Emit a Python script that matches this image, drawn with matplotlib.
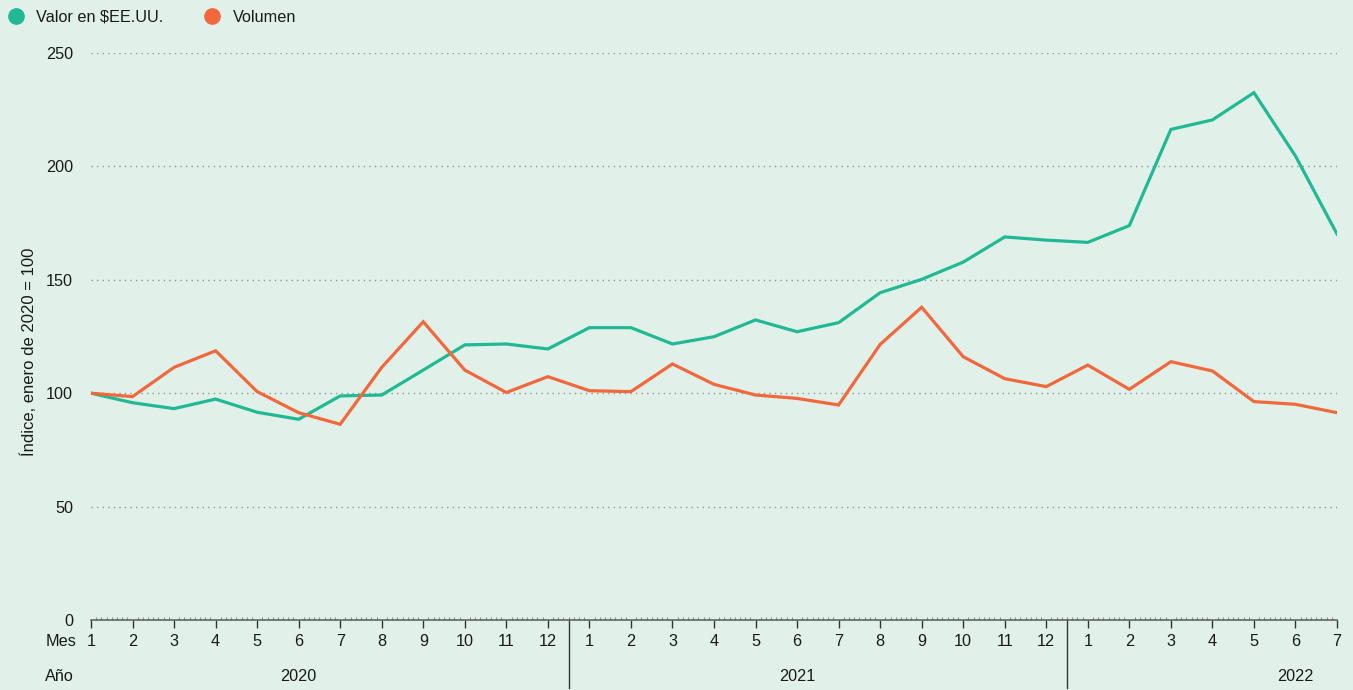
import matplotlib
matplotlib.use("Agg")
import matplotlib.pyplot as plt
from matplotlib.lines import Line2D
import numpy as np

# indice enero 2020 = 100, mensual ene-2020 .. jul-2022
months = [1, 2, 3, 4, 5, 6, 7, 8, 9, 10, 11, 12,
          1, 2, 3, 4, 5, 6, 7, 8, 9, 10, 11, 12,
          1, 2, 3, 4, 5, 6, 7]
years = ["2020", "2021", "2022"]

valor = [100.0, 95.8, 93.2, 97.4, 91.6, 88.5, 98.8, 99.2, 110.2, 121.3, 121.7, 119.5,
         128.9, 128.9, 121.7, 124.9, 132.3, 127.1, 131.1, 144.3, 150.2, 157.8, 168.9, 167.5,
         166.5, 173.9, 216.3, 220.5, 232.5, 204.6, 170.2]
volumen = [100.0, 98.5, 111.4, 118.7, 100.7, 91.4, 86.3, 111.4, 131.5, 110.2, 100.3, 107.3,
           101.1, 100.7, 112.9, 103.9, 99.2, 97.7, 94.8, 121.5, 137.9, 116.1, 106.4, 102.9,
           112.4, 101.7, 113.9, 109.8, 96.3, 95.1, 91.4]

bg = "#e1f1ea"
c_valor = "#20b993"
c_vol = "#f2683c"
txt = "#1a1a1a"

plt.rcParams["font.family"] = ["Liberation Sans", "DejaVu Sans"]
plt.rcParams["font.size"] = 11.7

fig = plt.figure(figsize=(13.53, 6.9), dpi=100, facecolor=bg)
ax = fig.add_axes([91 / 1353, 70 / 690, (1337 - 91) / 1353, (620 - 53) / 690])
ax.set_facecolor(bg)

x = np.arange(len(months))
ax.plot(x, valor, color=c_valor, lw=2.3, solid_joinstyle="miter", zorder=3)
ax.plot(x, volumen, color=c_vol, lw=2.3, solid_joinstyle="miter", zorder=3)

ax.set_xlim(0, len(months) - 1)
ax.set_ylim(0, 250)
yt = [0, 50, 100, 150, 200, 250]
ax.set_yticks(yt)
ax.set_yticklabels([str(v) for v in yt], color=txt)
for v in yt[1:]:
    ax.axhline(v, color="#8a9a93", lw=1.0, ls=(0, (1, 3)), zorder=1)

for s in ["top", "right", "left"]:
    ax.spines[s].set_visible(False)
ax.spines["bottom"].set_color("#666666")
ax.spines["bottom"].set_linewidth(1.2)
ax.tick_params(axis="y", length=0, pad=13)

ax.set_xticks(x)
ax.set_xticklabels([str(m) for m in months], color=txt)
ax.tick_params(axis="x", length=6, width=1.0, color="#333333", pad=4)
ax.set_xticks(np.arange(0, len(months) - 1 + 0.01, 0.125), minor=True)
ax.tick_params(axis="x", which="minor", length=2.5, width=0.8, color="#888888", direction="in")

ax.set_ylabel("Índice, enero de 2020 = 100", color=txt, fontsize=12)
ax.yaxis.set_label_coords(-0.0434, 0.473)

# etiquetas de filas
xt = ax.get_xaxis_transform()
ax.text(-0.36, -0.0245, "Mes", transform=xt, ha="right", va="top", color=txt)
ax.text(-0.42, -0.0865, "Año", transform=xt, ha="right", va="top", color=txt)

# etiquetas de año y separadores
for i, yr in enumerate(years):
    ax.text(5 + 12 * i, -0.0865, yr, transform=xt, ha="center", va="top", color=txt)
for b in [11.5, 23.5]:
    ax.plot([b, b], [0, -0.12], transform=xt, color="#333333", lw=1.0, clip_on=False)

handles = [Line2D([], [], ls="", marker="o", ms=11, color=c_valor),
           Line2D([], [], ls="", marker="o", ms=11, color=c_vol)]
fig.legend(handles, ["Valor en \\$EE.UU.", "Volumen"], loc="upper left", bbox_to_anchor=(-0.011, 1.007),
           ncol=2, frameon=False, handletextpad=0.25, columnspacing=2.0, fontsize=11.7,
           labelcolor=txt)

fig.savefig("out.png", dpi=100, facecolor=bg)
